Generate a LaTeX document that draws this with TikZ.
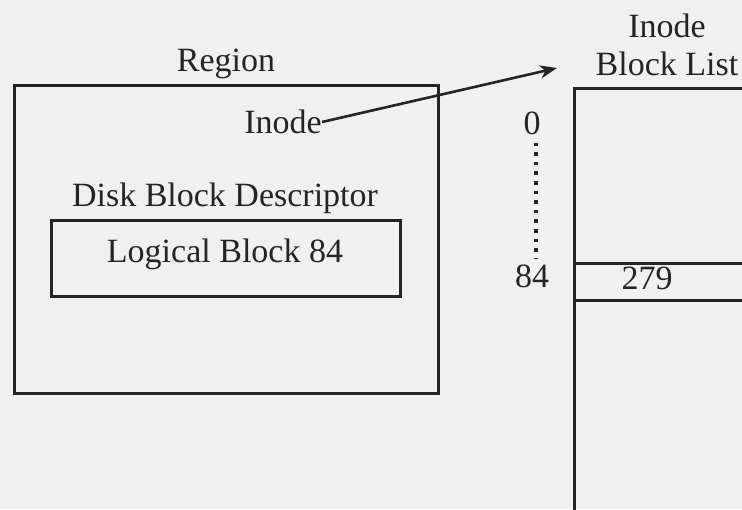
\documentclass[tikz,border=0pt]{standalone}
\usepackage{fontspec}
\setmainfont{Liberation Serif}
\usetikzlibrary{arrows.meta}
\definecolor{ink}{HTML}{242424}
\definecolor{paper}{HTML}{F0F0F0}
\begin{document}
\begin{tikzpicture}[x=1pt,y=-1pt,
  txt/.style={inner sep=0pt, text=ink, font=\fontsize{34}{38}\selectfont},
  boxed/.style={draw=ink, line width=3pt, inner sep=0pt},
  link/.style={draw=ink, line width=2.6pt},
  dotline/.style={draw=ink, line width=3.6pt, dash pattern=on 3.6pt off 6pt}]
\fill[paper] (0,0) rectangle (742,509);
\useasboundingbox (0,0) rectangle (742,509);
\clip (0,0) rectangle (742,509);
% left region
\node[boxed, minimum width=424pt, minimum height=308pt] (regionbox) at (226,239) {};
\node[txt] (regionlbl) at (226,64) {Region};
\node[txt, anchor=east] (inodetxt) at (322,122) {Inode};
\node[txt] (desclbl) at (225,198) {Disk Block Descriptor};
\node[boxed, minimum width=349pt, minimum height=76pt] (logbox) at (225.5,258) {};
\node[txt] (logtxt) at (225,254) {Logical Block 84};
% right list
\node[txt, align=center] (listlbl) at (667,45) {Inode\\Block List};
\node[boxed, minimum width=260pt, minimum height=500pt, anchor=north west] (listbox) at (573,87) {};
\node[boxed, minimum width=260pt, minimum height=37pt, anchor=north west] (row) at (573,262) {};
\node[txt] (rowtxt) at (647,278) {279};
\node[txt] (zero) at (532,123) {0};
\node[txt] (eightyfour) at (532,276) {84};
\coordinate (tip) at (557,68);
\draw[link, -{Stealth[length=17pt, width=13pt, inset=5pt]}] (inodetxt.east) -- (tip);
\draw[dotline] ([xshift=4pt,yshift=-8pt]zero.south) -- ([xshift=4pt,yshift=5pt]eightyfour.north);
\end{tikzpicture}
\end{document}
